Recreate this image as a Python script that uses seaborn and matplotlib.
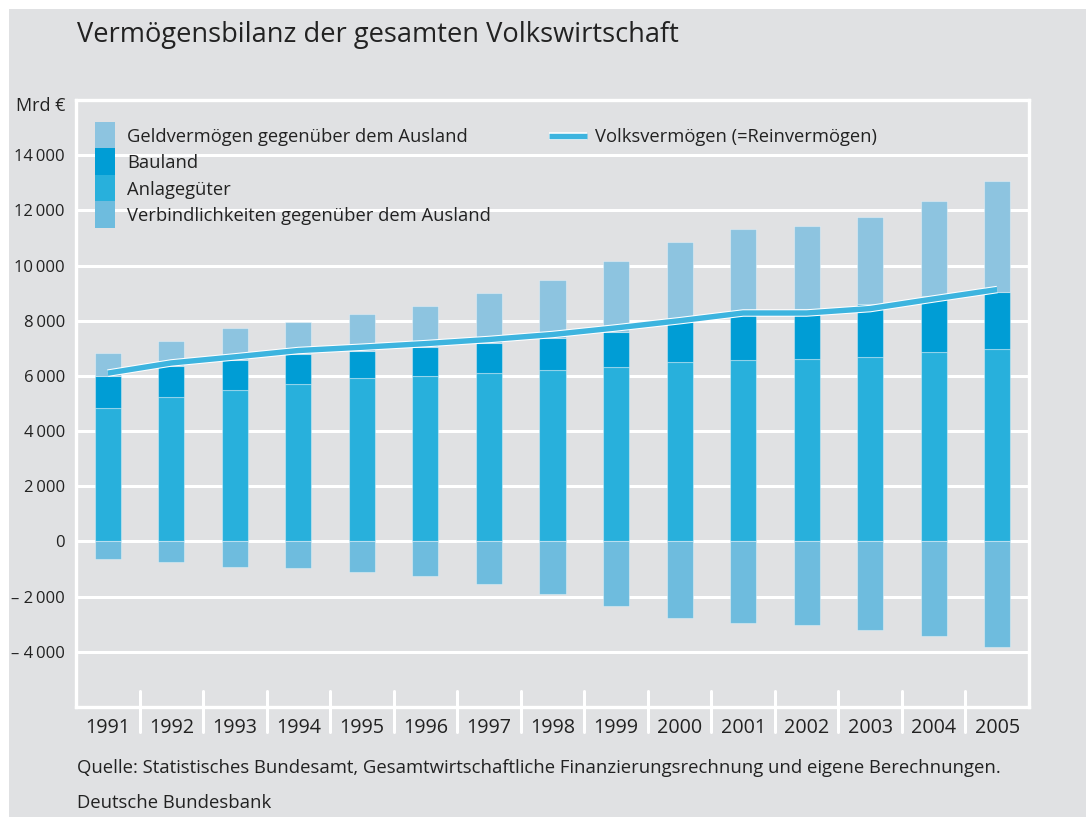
import numpy as np
import pandas as pd
import matplotlib
matplotlib.use("Agg")
import matplotlib.pyplot as plt
import matplotlib.patheffects as pe
from matplotlib.patches import Rectangle
from matplotlib.lines import Line2D
import matplotlib.transforms as mtransforms
import seaborn as sns

# ---------------- data (Mrd €) ----------------
years = ["1991", "1992", "1993", "1994", "1995", "1996", "1997", "1998",
         "1999", "2000", "2001", "2002", "2003", "2004", "2005"]
anlagegueter = [4840, 5230, 5480, 5720, 5910, 5980, 6100, 6210,
                6340, 6510, 6590, 6630, 6690, 6860, 6960]
bauland = [1170, 1120, 1080, 1060, 1010, 1050, 1110, 1160,
           1260, 1560, 1680, 1810, 1930, 2030, 2070]
geldvermoegen = [820, 930, 1160, 1190, 1330, 1520, 1780, 2090,
                 2570, 2800, 3060, 2980, 3140, 3440, 4050]
verbindlichkeiten = [-630, -730, -930, -970, -1110, -1260, -1550, -1910,
                     -2340, -2790, -2970, -3040, -3210, -3410, -3840]
volksvermoegen = [6100, 6470, 6690, 6920, 7040, 7170, 7320, 7500,
                  7740, 8000, 8280, 8280, 8440, 8790, 9130]
ytick_values = [-4000, -2000, 0, 2000, 4000, 6000, 8000, 10000, 12000, 14000]

labels = {
    "geld": "Geldvermögen gegenüber dem Ausland",
    "bau": "Bauland",
    "anl": "Anlagegüter",
    "verb": "Verbindlichkeiten gegenüber dem Ausland",
    "volk": "Volksvermögen (=Reinvermögen)",
}

# ---------------- style ----------------
BG = "#e0e1e3"
C_GELD = "#8dc4e0"
C_BAU = "#009dd5"
C_ANL = "#28b0dc"
C_VERB = "#6ebcde"
C_LINE = "#3db4df"
TXT = "#222222"

sns.set_theme(style="white")
plt.rcParams["font.family"] = ["Open Sans", "DejaVu Sans"]
plt.rcParams["text.color"] = TXT

W, H = 1086, 817
fig = plt.figure(figsize=(W / 100, H / 100), dpi=100, facecolor="white")


def fx(x):
    return x / W


def fy(y):
    return 1 - y / H


# grey panel (white margin at top/left)
fig.patches.append(Rectangle((fx(9), 0), 1 - fx(9), fy(9),
                             transform=fig.transFigure, facecolor=BG,
                             edgecolor="none", zorder=-10))

ax_l, ax_r, ax_t, ax_b = 76, 1029, 100, 707
ax = fig.add_axes([fx(ax_l), fy(ax_b), (ax_r - ax_l) / W, (ax_b - ax_t) / H])
ax.set_facecolor(BG)

df = pd.DataFrame({
    "year": years,
    "anl": anlagegueter,
    "bau": bauland,
    "geld": geldvermoegen,
    "verb": verbindlichkeiten,
})
bot_bau = np.array(anlagegueter)
bot_geld = bot_bau + np.array(bauland)

bar_kw = dict(width=0.41, saturation=1, errorbar=None, ax=ax,
              edgecolor=(1, 1, 1, 0.35), linewidth=0.8, zorder=3)
sns.barplot(data=df, x="year", y="anl", color=C_ANL, **bar_kw)
sns.barplot(data=df, x="year", y="bau", bottom=bot_bau, color=C_BAU, **bar_kw)
sns.barplot(data=df, x="year", y="geld", bottom=bot_geld, color=C_GELD, **bar_kw)
sns.barplot(data=df, x="year", y="verb", color=C_VERB, **bar_kw)

line_pe = [pe.Stroke(linewidth=5.4, foreground="white", capstyle="butt"),
           pe.Normal()]
sns.lineplot(x=np.arange(len(years)), y=volksvermoegen, color=C_LINE,
             linewidth=3.9, ax=ax, zorder=5, path_effects=line_pe,
             solid_capstyle="butt")

# ---------------- axes ----------------
ax.set_xlim(-0.5, len(years) - 0.5)
ax.set_ylim(-6000, 16000)
ax.set_xlabel("")
ax.set_ylabel("")
ax.set_yticks(ytick_values)


def fmt(v):
    if v == 0:
        return "0"
    s = f"{abs(v):,}".replace(",", "\u2009")
    return ("\u2013 " + s) if v < 0 else s


ax.set_yticklabels([fmt(v) for v in ytick_values])
ax.tick_params(axis="y", length=0, pad=8, labelsize=12, labelcolor=TXT)
ax.tick_params(axis="x", length=0, pad=8, labelsize=14.2, labelcolor=TXT)
ax.grid(axis="y", color="white", linewidth=2.2, zorder=1)
ax.grid(axis="x", visible=False)
ax.set_axisbelow(True)
for s in ax.spines.values():
    s.set_visible(True)
    s.set_color("white")
    s.set_linewidth(2.4)

# category separators crossing the bottom axis
trans = mtransforms.blended_transform_factory(ax.transData, ax.transAxes)
sep_top = (ax_b - 691) / (ax_b - ax_t)
sep_bot = (ax_b - 732) / (ax_b - ax_t)
for i in range(len(years) - 1):
    ax.plot([i + 0.5, i + 0.5], [sep_bot, sep_top], color="white",
            linewidth=2.2, transform=trans, clip_on=False, zorder=6)

# ---------------- legend (stacked colour column + line key) ----------------
fs_leg = 13.2
leg_items = [(C_GELD, labels["geld"]), (C_BAU, labels["bau"]),
             (C_ANL, labels["anl"]), (C_VERB, labels["verb"])]
row_top, row_h = 122, 26.5
for i, (col, lab) in enumerate(leg_items):
    y0 = row_top + i * row_h
    fig.patches.append(Rectangle((fx(95), fy(y0 + row_h)), 20 / W, row_h / H,
                                 transform=fig.transFigure, facecolor=col,
                                 edgecolor="none", zorder=2))
    fig.text(fx(127), fy(y0 + 19.6), lab, fontsize=fs_leg, ha="left",
             va="baseline", color=TXT)

fig.lines.append(Line2D([fx(549), fx(587)], [fy(135.5), fy(135.5)],
                        transform=fig.transFigure, color=C_LINE,
                        linewidth=3.9, solid_capstyle="butt",
                        path_effects=line_pe, zorder=2))
fig.text(fx(595), fy(142.3), labels["volk"], fontsize=fs_leg, ha="left",
         va="baseline", color=TXT)

# ---------------- texts ----------------
fig.text(fx(77), fy(35), "Vermögensbilanz der gesamten Volkswirtschaft",
         fontsize=19.6, ha="left", va="center", color=TXT)
fig.text(fx(66), fy(106), "Mrd €", fontsize=13, ha="right", va="center",
         color=TXT)
fig.text(fx(77), fy(768),
         "Quelle: Statistisches Bundesamt, Gesamtwirtschaftliche Finanzierungsrechnung und eigene Berechnungen.",
         fontsize=13.3, ha="left", va="center", color=TXT)
fig.text(fx(77), fy(803), "Deutsche Bundesbank", fontsize=13.3,
         ha="left", va="center", color=TXT)

fig.savefig("out.png", dpi=100, facecolor=fig.get_facecolor())
